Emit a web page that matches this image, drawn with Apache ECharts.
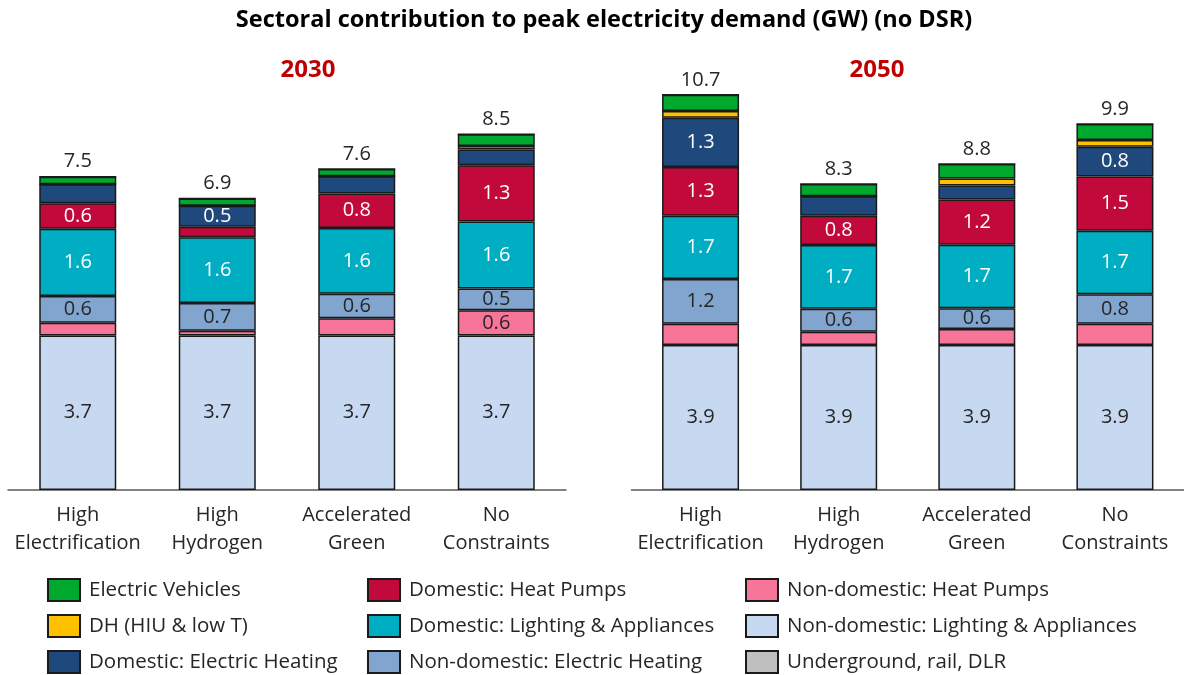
<!DOCTYPE html>
<html>
<head>
<meta charset="utf-8">
<title>Sectoral contribution to peak electricity demand</title>
<script src="https://cdn.jsdelivr.net/npm/echarts@6/dist/echarts.min.js"></script>
<style>
  html, body { margin: 0; padding: 0; background: #fff; }
  #chart { width: 1184px; height: 675px; }
</style>
</head>
<body>
<div id="chart"></div>
<script>
  // scenarios on the x axis (same for both years)
  const scenarios = ['High\nElectrification', 'High\nHydrogen', 'Accelerated\nGreen', 'No\nConstraints'];

  // stack order, bottom to top
  const sectors = [
    'Non-domestic: Lighting & Appliances',
    'Non-domestic: Heat Pumps',
    'Non-domestic: Electric Heating',
    'Domestic: Lighting & Appliances',
    'Domestic: Heat Pumps',
    'Domestic: Electric Heating',
    'DH (HIU & low T)',
    'Electric Vehicles',
    'Underground, rail, DLR'
  ];
  const colors = ['#c6d9f0', '#f67599', '#82a5d0', '#00aec4', '#c10a3b', '#1f497d', '#ffc000', '#00a82d', '#bfbfbf'];
  const labelColors = ['#262626', '#262626', '#262626', '#fff', '#fff', '#fff', '#262626', '#262626', '#262626'];

  // GW per sector (rows follow sectors), columns follow scenarios
  const demand2030 = [
    [3.68, 3.68, 3.68, 3.68],
    [0.30, 0.11, 0.41, 0.60],
    [0.64, 0.66, 0.58, 0.52],
    [1.60, 1.57, 1.57, 1.59],
    [0.61, 0.25, 0.82, 1.34],
    [0.45, 0.50, 0.41, 0.38],
    [0.00, 0.00, 0.00, 0.08],
    [0.18, 0.17, 0.17, 0.28],
    [0, 0, 0, 0]
  ];
  const demand2050 = [
    [3.92, 3.92, 3.92, 3.92],
    [0.57, 0.36, 0.43, 0.57],
    [1.21, 0.62, 0.56, 0.80],
    [1.71, 1.72, 1.72, 1.72],
    [1.32, 0.79, 1.22, 1.46],
    [1.33, 0.53, 0.38, 0.81],
    [0.18, 0.00, 0.19, 0.18],
    [0.44, 0.33, 0.39, 0.43],
    [0, 0, 0, 0]
  ];

  // which segments carry a value label in the original
  const shown2030 = [
    [1, 1, 1, 1],
    [0, 0, 0, 1],
    [1, 1, 1, 1],
    [1, 1, 1, 1],
    [1, 0, 1, 1],
    [0, 1, 0, 0],
    [0, 0, 0, 0],
    [0, 0, 0, 0],
    [0, 0, 0, 0]
  ];
  const shown2050 = [
    [1, 1, 1, 1],
    [0, 0, 0, 0],
    [1, 1, 1, 1],
    [1, 1, 1, 1],
    [1, 1, 1, 1],
    [1, 0, 0, 1],
    [0, 0, 0, 0],
    [0, 0, 0, 0],
    [0, 0, 0, 0]
  ];

  const FONT = '"Open Sans", Lato, sans-serif';

  function totals(rows) {
    return scenarios.map((s, i) => rows.reduce((acc, r) => acc + r[i], 0));
  }

  function buildSeries(rows, shown, axis) {
    const out = sectors.map((name, k) => ({
      name: name,
      type: 'bar',
      stack: 'y' + axis,
      xAxisIndex: axis,
      yAxisIndex: axis,
      barWidth: 77,
      itemStyle: { color: colors[k], borderColor: '#1a1a1a', borderWidth: 1.5 },
      label: {
        show: true,
        position: 'inside',
        fontFamily: FONT,
        fontSize: 20,
        color: labelColors[k],
        formatter: p => shown[k][p.dataIndex] ? p.value.toFixed(1) : ''
      },
      emphasis: { disabled: true },
      data: rows[k]
    }));
    const sum = totals(rows);
    out.push({
      name: 'Total',
      type: 'bar',
      stack: 'y' + axis,
      xAxisIndex: axis,
      yAxisIndex: axis,
      barWidth: 77,
      itemStyle: { color: 'transparent', borderWidth: 0 },
      label: {
        show: true,
        position: 'top',
        distance: 5,
        fontFamily: FONT,
        fontSize: 20,
        color: '#262626',
        formatter: p => sum[p.dataIndex].toFixed(1)
      },
      data: scenarios.map(() => 0)
    });
    return out;
  }

  const chart = echarts.init(document.getElementById('chart'));

  const xAxisBase = {
    type: 'category',
    data: scenarios,
    axisLine: { lineStyle: { color: '#595959', width: 1.5 } },
    axisTick: { show: false },
    axisLabel: { interval: 0, fontFamily: FONT, fontSize: 20, color: '#262626', lineHeight: 28, margin: 11 }
  };

  const legendBase = {
    orient: 'vertical',
    top: 578,
    height: 120,
    padding: 0,
    icon: 'rect',
    itemWidth: 32,
    itemHeight: 22,
    itemGap: 12,
    selectedMode: false,
    textStyle: { fontFamily: FONT, fontSize: 20.5, lineHeight: 22, color: '#262626', padding: [0, 0, 0, 4] }
  };

  chart.setOption({
    backgroundColor: '#fff',
    animation: false,
    title: [
      {
        text: 'Sectoral contribution to peak electricity demand (GW) (no DSR)',
        left: 604, top: 8, textAlign: 'center', padding: 0,
        textStyle: { fontFamily: FONT, fontSize: 23.5, fontWeight: 'bold', color: '#000' }
      },
      {
        text: '2030', left: 308, top: 58, textAlign: 'center', padding: 0,
        textStyle: { fontFamily: FONT, fontSize: 24, fontWeight: 'bold', color: '#c00000' }
      },
      {
        text: '2050', left: 877, top: 58, textAlign: 'center', padding: 0,
        textStyle: { fontFamily: FONT, fontSize: 24, fontWeight: 'bold', color: '#c00000' }
      }
    ],
    legend: [
      Object.assign({}, legendBase, { left: 47, data: ['Electric Vehicles', 'DH (HIU & low T)', 'Domestic: Electric Heating'] }),
      Object.assign({}, legendBase, { left: 367, data: ['Domestic: Heat Pumps', 'Domestic: Lighting & Appliances', 'Non-domestic: Electric Heating'] }),
      Object.assign({}, legendBase, { left: 745, data: ['Non-domestic: Heat Pumps', 'Non-domestic: Lighting & Appliances', 'Underground, rail, DLR'] })
    ],
    grid: [
      { left: 8, width: 558, top: 70, height: 420 },
      { left: 631.5, width: 557, top: 46, height: 444 }
    ],
    xAxis: [
      Object.assign({ gridIndex: 0 }, xAxisBase),
      Object.assign({ gridIndex: 1 }, xAxisBase)
    ],
    yAxis: [
      { gridIndex: 0, type: 'value', min: 0, max: 10, show: false },
      { gridIndex: 1, type: 'value', min: 0, max: 12, show: false }
    ],
    series: buildSeries(demand2030, shown2030, 0).concat(buildSeries(demand2050, shown2050, 1))
  });
</script>
</body>
</html>
